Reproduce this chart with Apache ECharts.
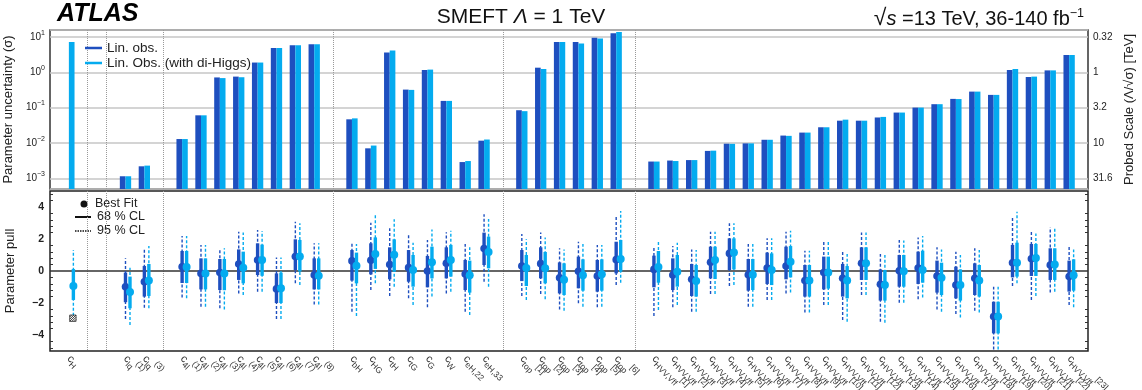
<!DOCTYPE html>
<html><head><meta charset="utf-8">
<script src="https://cdn.jsdelivr.net/npm/echarts@6/dist/echarts.min.js"></script>
<style>html,body{margin:0;padding:0;background:#fff}#c{width:1142px;height:390px}</style>
</head><body><div id="c"></div>
<script>
// ---------------- DATA ----------------
const categories = ['_0','cH','|1','|2','clq1','clq3','|3',
 'c4l1','c4l2','c4l3','c4l4','c4l5','c4l6','c4l7','c4l8','|4',
 'cbH','cHG','ctH','ctG','cG','cW','ceH22','ceH33','|5',
 'ctop1','ctop2','ctop3','ctop4','ctop5','ctop6','|6',
 'cHVV1','cHVV2','cHVV3','cHVV4','cHVV5','cHVV6','cHVV7','cHVV8','cHVV9','cHVV10','cHVV11','cHVV12',
 'cHVV13','cHVV14','cHVV15','cHVV16','cHVV17','cHVV18','cHVV19','cHVV20','cHVV21','cHVV22','cHVV23','_1'];

const labelSub = ['H','lq','lq','4l','4l','4l','4l','4l','4l','4l','4l',
 'bH','HG','tH','tG','G','W','eH,22','eH,33',
 'top','top','top','top','top','top',
 'HVV,Vff','HVV,Vff','HVV,Vff','HVV,Vff','HVV,Vff','HVV,Vff','HVV,Vff','HVV,Vff','HVV,Vff','HVV,Vff','HVV,Vff','HVV,Vff',
 'HVV,Vff','HVV,Vff','HVV,Vff','HVV,Vff','HVV,Vff','HVV,Vff','HVV,Vff','HVV,Vff','HVV,Vff','HVV,Vff','HVV,Vff'];
const labelSup = ['','(1)','(3)','(1)','(2)','(3)','(4)','(5)','(6)','(7)','(8)',
 '','','','','','','','',
 '[1]','[2]','[3]','[4]','[5]','[6]',
 '[1]','[2]','[3]','[4]','[5]','[6]','[7]','[8]','[9]','[10]','[11]','[12]',
 '[13]','[14]','[15]','[16]','[17]','[18]','[19]','[20]','[21]','[22]','[23]'];

// Parameter uncertainty (sigma)
const uncLinObs = [null, 0.00115, 0.0022, 0.013, 0.061, 0.72, 0.76, 1.9, 4.9, 5.9, 6.3,
 0.047, 0.0071, 3.66, 0.326, 1.17, 0.156, 0.0029, 0.0117,
 0.085, 1.36, 7.2, 7.2, 9.5, 12.9,
 0.0030, 0.0032, 0.0033, 0.0060, 0.0096, 0.0098, 0.0124, 0.0163, 0.0198, 0.028, 0.043, 0.043,
 0.053, 0.073, 0.101, 0.126, 0.178, 0.286, 0.231, 1.17, 0.74, 1.14, 3.1];
const uncLinObsHH = [7.3, 0.00115, 0.0023, 0.013, 0.061, 0.69, 0.73, 1.9, 4.9, 5.9, 6.3,
 0.050, 0.0085, 4.2, 0.32, 1.2, 0.156, 0.0031, 0.0126,
 0.080, 1.25, 7.2, 6.6, 9.1, 14.0,
 0.0030, 0.0031, 0.0033, 0.0061, 0.0095, 0.0098, 0.0124, 0.016, 0.0198, 0.028, 0.046, 0.043,
 0.055, 0.073, 0.101, 0.126, 0.176, 0.286, 0.231, 1.25, 0.76, 1.14, 3.1];

// Parameter pulls: Lin. obs.
const darkBest = [null, -0.98, -0.67, 0.27, -0.15, -0.1, 0.44, 0.69, -1.12, 0.9, -0.25,
 0.63, 0.67, 0.4, 0.21, 0.0, 0.48, -0.19, 1.4,
 0.31, 0.46, -0.42, -0.02, -0.31, 0.71,
 0.1, -0.25, -0.52, 0.54, 1.1, -0.23, 0.19, 0.31, -0.6, -0.1, -0.46, 0.48,
 -0.83, 0.02, 0.19, -0.31, -0.88, -0.46, -2.85, 0.52, 0.77, 0.375, -0.35];
const darkLo68 = [null, -1.95, -1.6, -0.75, -1.15, -1.19, -0.56, -0.25, -2.0, 0.06, -1.15,
 -0.6, -0.21, -0.52, -0.67, -1.02, -0.46, -1.19, 0.375,
 -0.63, -0.46, -1.4, -1.08, -1.29, -0.15,
 -1.02, -1.19, -1.56, -0.46, 0.06, -1.23, -0.81, -0.52, -1.6, -1.15, -1.6, -0.56,
 -1.85, -0.98, -0.81, -1.35, -1.71, -1.5, -3.9, -0.4, -0.31, -0.56, -1.29];
const darkHi68 = [null, -0.1, 0.31, 1.25, 0.79, 0.75, 1.35, 1.73, -0.15, 1.98, 0.79,
 1.31, 1.73, 1.48, 1.31, 0.94, 1.48, 0.69, 2.4,
 1.31, 1.48, 0.54, 0.9, 0.69, 1.83,
 0.96, 0.79, 0.44, 1.52, 2.04, 0.75, 1.15, 1.52, 0.375, 0.9, 0.44, 1.48,
 0.1, 1.0, 1.21, 0.65, 0.27, 0.48, -1.92, 1.63, 1.69, 1.42, 0.65];
const darkLo95 = [null, -3.0, -2.3, -1.65, -2.23, -2.33, -1.4, -1.29, -3.0, -0.77, -2.1,
 -2.54, -1.19, -1.56, -1.71, -2.27, -1.4, -2.54, -0.67,
 -1.56, -1.44, -2.4, -2.02, -2.27, -0.88,
 -2.81, -2.27, -2.54, -1.44, -0.94, -2.23, -1.81, -1.4, -2.6, -2.13, -3.06, -1.5,
 -3.17, -1.98, -1.77, -2.4, -2.69, -2.48, -4.9, -0.94, -1.81, -1.35, -2.13];
const darkHi95 = [null, 0.8, 1.42, 2.19, 1.63, 1.42, 2.46, 2.56, 0.85, 3.08, 1.73,
 1.83, 3.02, 2.67, 2.35, 1.94, 2.42, 1.69, 3.54,
 2.31, 2.4, 1.42, 1.83, 1.63, 3.4,
 1.48, 1.56, 1.35, 2.46, 2.98, 1.69, 2.04, 2.46, 1.27, 1.83, 1.21, 2.4,
 1.06, 1.94, 2.1, 1.48, 1.21, 1.42, -0.98, 3.35, 2.46, 2.73, 1.63];

// Parameter pulls: Lin. Obs. (with di-Higgs)
const lightBest = [-0.94, -1.31, -0.6, 0.25, -0.15, -0.15, 0.21, 0.69, -1.08, 0.9, -0.29,
 0.33, 1.06, 1.02, 0.06, 0.54, 0.69, -0.27, 1.19,
 0.19, 0.17, -0.54, -0.27, -0.21, 0.75,
 0.25, -0.04, -0.63, 0.69, 1.15, -0.23, 0.06, 0.58, -0.6, -0.1, -0.6, 0.48,
 -0.88, -0.02, 0.06, -0.42, -0.88, -0.6, -2.85, 0.52, 0.81, 0.4, -0.27];
const lightLo68 = [-1.81, -2.33, -1.56, -0.75, -1.15, -1.2, -0.77, -0.3, -2.0, -0.04, -1.15,
 -0.77, 0.13, -0.04, -0.98, -0.46, -0.35, -1.35, 0.17,
 -0.94, -0.77, -1.5, -1.23, -1.23, -0.04,
 -0.73, -0.98, -1.6, -0.5, 0.1, -1.19, -0.88, -0.4, -1.6, -1.1, -1.71, -0.56,
 -1.85, -0.98, -0.73, -1.5, -1.85, -1.6, -3.9, -0.35, -0.31, -0.56, -1.23];
const lightHi68 = [0.12, -0.35, 0.44, 1.25, 0.79, 0.75, 1.21, 1.65, -0.1, 1.94, 0.79,
 1.15, 2.1, 1.98, 1.0, 1.52, 1.63, 0.65, 2.15,
 1.0, 1.19, 0.48, 0.73, 0.73, 1.94,
 1.25, 1.0, 0.375, 1.52, 2.04, 0.75, 1.1, 1.56, 0.375, 0.9, 0.31, 1.48,
 0.06, 1.0, 1.27, 0.52, 0.1, 0.375, -1.92, 1.77, 1.69, 1.42, 0.73];
const lightLo95 = [-2.8, -3.38, -2.33, -1.7, -2.23, -2.4, -1.5, -1.29, -3.0, -0.88, -2.1,
 -2.81, -0.77, -0.98, -2.13, -1.6, -1.29, -2.75, -0.98,
 -1.81, -1.77, -2.48, -2.23, -2.23, -0.73,
 -2.44, -2.13, -2.54, -1.44, -0.88, -2.23, -1.81, -1.35, -2.6, -2.13, -3.17, -1.5,
 -3.23, -1.98, -1.65, -2.54, -2.9, -2.6, -4.9, -0.77, -1.56, -1.29, -2.27];
const lightHi95 = [1.31, 0.2, 1.56, 2.19, 1.63, 1.42, 2.4, 2.5, 0.85, 2.98, 1.73,
 1.69, 3.5, 3.23, 1.77, 2.6, 2.52, 1.48, 3.25,
 1.98, 2.1, 1.35, 1.69, 1.63, 3.75,
 1.83, 1.77, 1.31, 2.46, 2.98, 1.69, 2.04, 2.52, 1.27, 1.83, 1.06, 2.4,
 1.0, 1.9, 2.19, 1.35, 1.0, 1.31, -0.98, 3.71, 2.35, 2.77, 1.35];

// hatched marker on cH pull
const hatchParams = ['cH'];
const hatchValues = [-2.95];

// tick labels
const pullTicks = [-4, -2, 0, 2, 4];
const probedScaleLabels = ['31.6', '10', '3.2', '1', '0.32']; // for sigma = 1e-3 .. 1e1

// ---------------- BUILD ----------------
const FONT = '"Liberation Sans", Arial, Helvetica, sans-serif';
const DARK = '#1e4fbf', LIGHT = '#04abef';
const params = categories.filter(k => k[0] !== '|' && k[0] !== '_');
const idx = k => categories.indexOf(k);
const yMinTop = Math.pow(10, -3.3), yMaxTop = Math.pow(10, 1.2);

function barData(vals) {
  return params.map((k, i) => vals[i] == null ? null : [idx(k), vals[i]]).filter(d => d);
}
function pullData(b, l68, h68, l95, h95) {
  return params.map((k, i) => b[i] == null ? null : [idx(k), b[i], l68[i], h68[i], l95[i], h95[i]]).filter(d => d);
}
function barRender(side, color) {
  return function (p, api) {
    const x = api.value(0), v = api.value(1);
    const t = api.coord([x, v]);
    const b = api.coord([x, yMinTop]);
    const step = api.coord([x + 1, v])[0] - t[0];
    const w = step * 0.3;
    const x0 = side < 0 ? t[0] - w : t[0];
    return { type: 'rect', shape: { x: x0, y: t[1], width: w, height: b[1] - t[1] }, style: { fill: color } };
  };
}
function pullRender(dx, r, color) {
  return function (p, api) {
    const x = api.value(0);
    const c = api.coord([x, api.value(1)]);
    const px = c[0] + dx;
    const y = i => api.coord([x, api.value(i)])[1];
    return { type: 'group', children: [
      { type: 'line', shape: { x1: px, y1: y(4), x2: px, y2: y(5) }, style: { stroke: color, lineWidth: 1.4, lineDash: [3, 2] } },
      { type: 'line', shape: { x1: px, y1: y(2), x2: px, y2: y(3) }, style: { stroke: color, lineWidth: 3.4 } },
      { type: 'circle', shape: { cx: px, cy: c[1], r: r }, style: { fill: color } }
    ] };
  };
}
function hatchRender(p, api) {
  const c = api.coord([api.value(0), api.value(1)]);
  const cx = c[0] + 4, cy = c[1], h = 3.2;
  const kids = [{ type: 'rect', shape: { x: cx - h, y: cy - h, width: 2 * h, height: 2 * h }, style: { fill: '#fff', stroke: '#333', lineWidth: 0.8 } }];
  for (let k = -2; k <= 2; k++) {
    const o = k * 2.2;
    kids.push({ type: 'line', shape: { x1: Math.max(cx - h, cx - h + o), y1: Math.min(cy + h, cy + h + o), x2: Math.min(cx + h, cx + h + o), y2: Math.max(cy - h, cy - h + o) }, style: { stroke: '#222', lineWidth: 0.9 } });
  }
  return { type: 'group', children: kids };
}
const labelMap = {};
params.forEach((k, i) => {
  labelMap[k] = '{c|c}{sb|' + labelSub[i] + '}' + (labelSup[i] ? '{sp|' + labelSup[i] + '}' : '');
});
const sepInterval = (i, v) => typeof v === 'string' && v[0] === '|';
const expOf = v => { const e = Math.log10(v); return Math.abs(e - Math.round(e)) < 0.02 ? Math.round(e) : null; };

const gridTop = { left: 50, right: 54, top: 30, height: 159, show: true, borderColor: '#333', borderWidth: 1.5, containLabel: false, outerBoundsMode: 'none' };
const gridBot = { left: 50, right: 54, top: 191, height: 160, show: true, borderColor: '#222', borderWidth: 1.5, containLabel: false, outerBoundsMode: 'none' };

const option = {
  animation: false,
  backgroundColor: '#fff',
  textStyle: { fontFamily: FONT },
  grid: [gridTop, gridBot],
  legend: {
    data: ['Lin. obs.', 'Lin. Obs. (with di-Higgs)'],
    orient: 'vertical', left: 80, top: 36, icon: 'rect', itemWidth: 17, itemHeight: 2.5, itemGap: 1,
    textStyle: { fontSize: 13.5, color: '#222', fontFamily: FONT }
  },
  xAxis: [
    { type: 'category', gridIndex: 0, data: categories, boundaryGap: false,
      axisLine: { show: false }, axisTick: { show: false }, axisLabel: { show: false },
      splitLine: { show: true, interval: sepInterval, lineStyle: { color: '#999', type: 'dotted', width: 1 } } },
    { type: 'category', gridIndex: 1, data: categories, boundaryGap: false,
      axisLine: { show: false }, axisTick: { show: false },
      axisLabel: { interval: 0, rotate: -45, margin: 6, color: '#333',
        formatter: v => labelMap[v] || '',
        rich: {
          c: { fontSize: 11, lineHeight: 17, color: '#333', fontFamily: FONT },
          sb: { fontSize: 8.5, lineHeight: 9, verticalAlign: 'bottom', color: '#333', fontFamily: FONT },
          sp: { fontSize: 8.5, lineHeight: 9, verticalAlign: 'top', color: '#333', fontFamily: FONT }
        } },
      splitLine: { show: true, interval: sepInterval, lineStyle: { color: '#999', type: 'dotted', width: 1 } } }
  ],
  yAxis: [
    { type: 'log', logBase: 10, gridIndex: 0, min: yMinTop, max: yMaxTop, position: 'left',
      axisLine: { show: false }, axisTick: { inside: true, length: 6, lineStyle: { color: '#333' } },
      splitLine: { show: true, lineStyle: { color: '#c6c6c6', width: 1.5 } },
      axisLabel: { margin: 5, color: '#222',
        formatter: v => { const e = expOf(v); return e === null ? '' : '{b|10}{sp|' + (e < 0 ? '−' + (-e) : e) + '}'; },
        rich: { b: { fontSize: 10, lineHeight: 16, color: '#222', fontFamily: FONT },
                sp: { fontSize: 7, lineHeight: 8, verticalAlign: 'top', color: '#222', fontFamily: FONT } } },
      name: 'Parameter uncertainty (σ)', nameLocation: 'middle', nameGap: 33, nameRotate: 90,
      nameTextStyle: { fontSize: 13, color: '#222', fontFamily: FONT } },
    { type: 'log', logBase: 10, gridIndex: 0, min: yMinTop, max: yMaxTop, position: 'right',
      axisLine: { show: false }, axisTick: { inside: true, length: 6, lineStyle: { color: '#333' } },
      splitLine: { show: false },
      axisLabel: { margin: 5, fontSize: 10, color: '#222',
        formatter: v => { const e = expOf(v); return e === null ? '' : (probedScaleLabels[e + 3] || ''); } },
      name: 'Probed Scale (Λ/√σ) [TeV]', nameLocation: 'middle', nameGap: 32, nameRotate: 90,
      nameTextStyle: { fontSize: 13, color: '#222', fontFamily: FONT } },
    { type: 'value', gridIndex: 1, min: -5, max: 5, position: 'left',
      axisLine: { show: false }, axisTick: { inside: true, length: 6, lineStyle: { color: '#333' } },
      minorTick: { show: true, splitNumber: 5, length: 3, lineStyle: { color: '#333' } },
      splitLine: { show: false },
      axisLabel: { margin: 6, fontSize: 10.5, fontWeight: 'bold', color: '#222',
        formatter: v => pullTicks.indexOf(v) < 0 ? '' : (v < 0 ? '−' + (-v) : String(v)) },
      name: 'Parameter pull', nameLocation: 'middle', nameGap: 33, nameRotate: 90,
      nameTextStyle: { fontSize: 13, color: '#222', fontFamily: FONT } },
    { type: 'value', gridIndex: 1, min: -5, max: 5, position: 'right',
      axisLine: { show: false }, axisTick: { inside: true, length: 6, lineStyle: { color: '#333' } },
      minorTick: { show: true, splitNumber: 5, length: 3, lineStyle: { color: '#333' } },
      splitLine: { show: false }, axisLabel: { show: false } }
  ],
  series: [
    { name: 'Lin. obs.', type: 'custom', xAxisIndex: 0, yAxisIndex: 0, itemStyle: { color: DARK },
      renderItem: barRender(-1, DARK), encode: { x: 0, y: 1 }, data: barData(uncLinObs), silent: true },
    { name: 'Lin. Obs. (with di-Higgs)', type: 'custom', xAxisIndex: 0, yAxisIndex: 0, itemStyle: { color: LIGHT },
      renderItem: barRender(1, LIGHT), encode: { x: 0, y: 1 }, data: barData(uncLinObsHH), silent: true },
    { name: 'zero', type: 'line', xAxisIndex: 1, yAxisIndex: 2, data: [[0, 0], [categories.length - 1, 0]],
      symbol: 'none', lineStyle: { color: '#333', width: 1.5 }, silent: true, z: 1 },
    { name: 'pullDark', type: 'custom', xAxisIndex: 1, yAxisIndex: 2, itemStyle: { color: DARK },
      renderItem: pullRender(0, 3.8, DARK), encode: { x: 0, y: [1, 2, 3, 4, 5] },
      data: pullData(darkBest, darkLo68, darkHi68, darkLo95, darkHi95), silent: true, z: 3 },
    { name: 'pullLight', type: 'custom', xAxisIndex: 1, yAxisIndex: 2, itemStyle: { color: LIGHT },
      renderItem: pullRender(4.5, 4, LIGHT), encode: { x: 0, y: [1, 2, 3, 4, 5] },
      data: pullData(lightBest, lightLo68, lightHi68, lightLo95, lightHi95), silent: true, z: 4 },
    { name: 'hatch', type: 'custom', xAxisIndex: 1, yAxisIndex: 2,
      renderItem: hatchRender, encode: { x: 0, y: 1 },
      data: hatchParams.map((k, i) => [idx(k), hatchValues[i]]), silent: true, z: 5 }
  ],
  graphic: [
    { type: 'text', left: 57, top: 2, style: { text: 'ATLAS', fontSize: 25, fontWeight: 'bold', fontStyle: 'italic', fontFamily: FONT, fill: '#000' } },
    { type: 'text', x: 521, y: 17, style: { text: 'SMEFT {it|Λ} = 1 TeV', align: 'center', verticalAlign: 'middle', fontSize: 21, fontFamily: FONT, fill: '#111',
        rich: { it: { fontSize: 21, fontStyle: 'italic', fontFamily: FONT, fill: '#111' } } } },
    { type: 'text', x: 1084, y: 19, style: { text: '{r|√}{it|s} =13 TeV, 36-140 fb{sp|−1}', align: 'right', verticalAlign: 'middle', fontSize: 20, fontFamily: FONT, fill: '#111',
        rich: { r: { fontSize: 23, fontFamily: FONT, fill: '#111', lineHeight: 24 },
                it: { fontSize: 20, fontStyle: 'italic', fontFamily: FONT, fill: '#111', lineHeight: 24 },
                sp: { fontSize: 12.5, verticalAlign: 'top', lineHeight: 13, fontFamily: FONT, fill: '#111' } } } },
    { type: 'circle', shape: { cx: 84, cy: 204, r: 3.5 }, style: { fill: '#111' } },
    { type: 'text', x: 95, y: 204, style: { text: 'Best Fit', verticalAlign: 'middle', fontSize: 12.5, fontFamily: FONT, fill: '#222' } },
    { type: 'line', shape: { x1: 75, y1: 217, x2: 91, y2: 217 }, style: { stroke: '#111', lineWidth: 2 } },
    { type: 'text', x: 97, y: 217, style: { text: '68 % CL', verticalAlign: 'middle', fontSize: 12.5, fontFamily: FONT, fill: '#222' } },
    { type: 'line', shape: { x1: 75, y1: 231, x2: 91, y2: 231 }, style: { stroke: '#111', lineWidth: 1.5, lineDash: [1.5, 1] } },
    { type: 'text', x: 97, y: 231, style: { text: '95 % CL', verticalAlign: 'middle', fontSize: 12.5, fontFamily: FONT, fill: '#222' } }
  ]
};
const chart = echarts.init(document.getElementById('c'));
chart.setOption(option);
</script>
</body></html>
